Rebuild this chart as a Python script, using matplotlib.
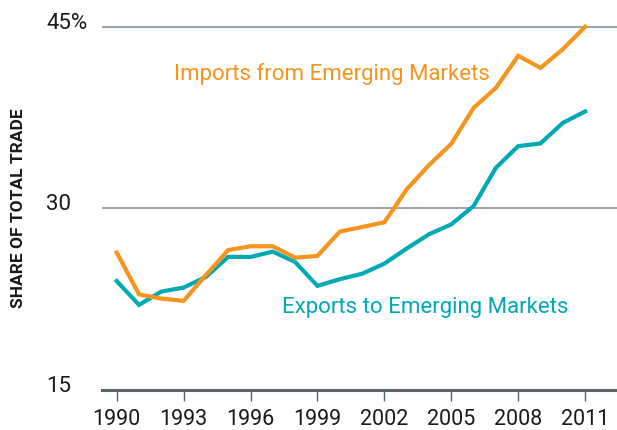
import matplotlib
matplotlib.use("Agg")
import matplotlib.pyplot as plt
import matplotlib.transforms as mtransforms

plt.rcParams['font.family'] = ['Roboto', 'DejaVu Sans']

years = list(range(1990, 2012))
imports = [26.35, 22.9, 22.55, 22.36, 24.5, 26.56, 26.87, 26.87, 25.93, 26.07, 28.08,
           28.46, 28.85, 31.57, 33.57, 35.33, 38.3, 39.95, 42.6, 41.6, 43.14, 45.0]
exports = [24.0, 22.03, 23.13, 23.46, 24.34, 25.99, 25.99, 26.43, 25.57, 23.6, 24.15,
           24.6, 25.44, 26.68, 27.86, 28.68, 30.19, 33.35, 35.14, 35.36, 37.06, 38.0]
xticks = [1990, 1993, 1996, 1999, 2002, 2005, 2008, 2011]
yticks = [15, 30, 45]
ylabels = ["15", "30", "45%"]

orange = "#F7941D"
teal = "#00AAB5"
grid_col = "#7d8a92"
axis_col = "#56636b"

fig = plt.figure(figsize=(6.17, 4.30), dpi=100)
ax = fig.add_axes([0.1653, 0.093, 0.8347, 0.873])

for v in yticks[1:]:
    ax.axhline(v, color=grid_col, lw=1.1, zorder=1)

ax.plot(years, exports, color=teal, lw=3.0, solid_joinstyle='miter', zorder=3)
ax.plot(years, imports, color=orange, lw=3.0, solid_joinstyle='miter', zorder=3)

ax.set_xlim(1989.34, 2012.43)
ax.set_ylim(15, 46)

for s in ['top', 'right', 'left']:
    ax.spines[s].set_visible(False)
ax.spines['bottom'].set_color(axis_col)
ax.spines['bottom'].set_linewidth(2.2)

ax.set_xticks(xticks)
ax.set_xticklabels([str(x) for x in xticks])
ax.tick_params(axis='x', direction='out', length=8, width=1, color=axis_col,
               labelsize=15.5, pad=5.5, labelcolor='#1a1a1a')
ax.set_yticks([])

# y tick labels, left aligned just above the gridlines
trans = mtransforms.blended_transform_factory(fig.transFigure, ax.transData)
for v, lab in zip(yticks, ylabels):
    ax.text(0.075, v, lab, transform=trans + mtransforms.ScaledTranslation(0, -1.5/72, fig.dpi_scale_trans),
            ha='left', va='baseline', fontsize=16, color='#1a1a1a')

fig.text(0.03, 0.515, "SHARE OF TOTAL TRADE", rotation=90, ha='center', va='center',
         fontsize=12.5, fontweight='bold', color='#1a1a1a')

ax.text(1992.57, 41.1, "Imports from Emerging Markets", color=orange, fontsize=16,
        ha='left', va='center')
ax.text(1997.41, 21.8, "Exports to Emerging Markets", color=teal, fontsize=16,
        ha='left', va='center')

fig.savefig("out.png", dpi=100)
